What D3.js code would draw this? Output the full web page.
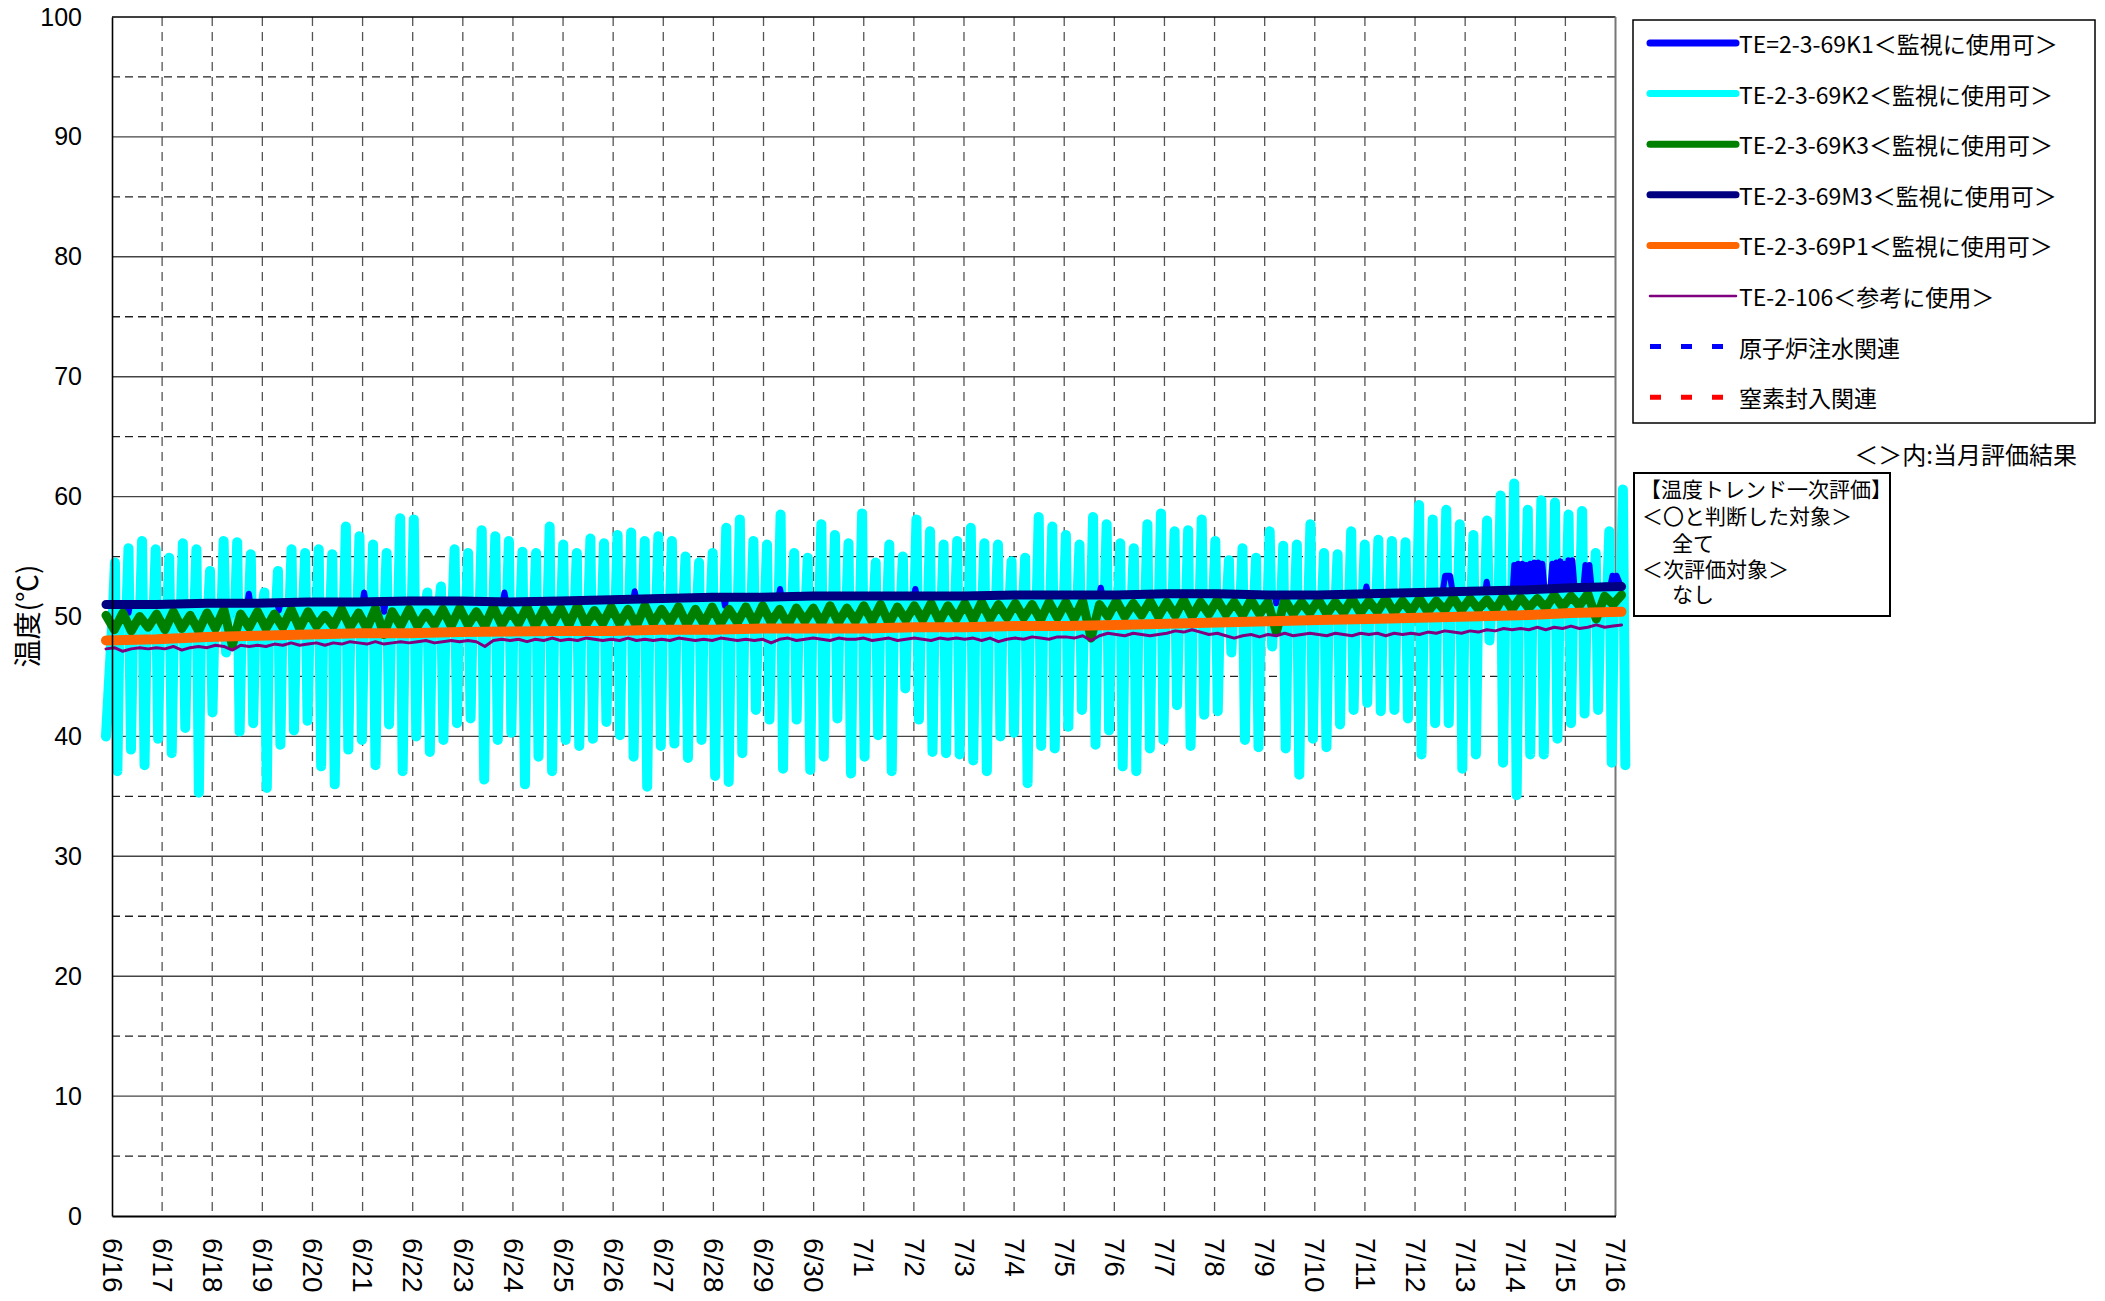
<!DOCTYPE html>
<html>
<head>
<meta charset="utf-8">
<script src="https://cdn.jsdelivr.net/npm/d3@7"></script>
<style>
  body { margin: 0; background: #fff; }
  svg { display: block; }
</style>
</head>
<body>
<svg id="chart" width="2105" height="1301"></svg>
<script>
// date labels, one per day (day 0 = 6/16)
const dateLabels = ["6/16","6/17","6/18","6/19","6/20","6/21","6/22","6/23","6/24","6/25",
  "6/26","6/27","6/28","6/29","6/30","7/1","7/2","7/3","7/4","7/5","7/6","7/7","7/8",
  "7/9","7/10","7/11","7/12","7/13","7/14","7/15","7/16"];
const yTicks = [0,10,20,30,40,50,60,70,80,90,100];
const yMinor = [5,15,25,35,45,55,65,75,85,95];

// the record runs a little past both ends of the axis (days)
const recStart = -0.12, recEnd = 30.12;

// TE-2-3-69K2: first value = opening reading, then (high, low) swing pairs, one pair per cycle
const k2Start = -0.05, k2End = 30.31;
const k2Vals = [
  40.0,54.5,37.1,55.7,38.9,56.3,37.6,55.6,39.8,54.9,38.6,56.1,40.7,55.6,35.3,53.8,42.0,56.3,47.0,56.2,
  40.4,55.2,41.1,52.0,35.7,53.8,39.3,55.6,40.5,55.3,41.3,55.6,37.5,55.2,36.0,57.5,38.9,56.7,39.7,56.0,
  37.6,55.3,41.0,58.2,37.1,58.1,40.0,52.0,38.7,52.5,39.7,55.6,41.1,55.3,41.5,
  57.2,36.4,56.7,39.7,56.3,40.3,55.4,36.0,55.3,38.3,57.5,37.1,56.0,39.7,55.3,39.2,56.5,39.8,56.1,41.2,
  56.8,40.1,57.0,38.3,56.3,35.8,56.7,39.2,56.3,39.4,55.0,38.2,54.5,39.7,55.3,36.7,57.4,36.2,58.1,38.6,
  56.3,42.2,56.0,41.4,58.5,37.3,55.3,41.4,54.9,37.2,57.7,38.3,56.8,41.5,56.1,36.9,
  58.6,38.3,54.5,40.1,56.0,37.1,55.0,44.0,58.1,41.4,57.1,38.7,56.0,38.6,56.3,38.5,57.4,38.0,56.1,37.1,
  56.0,40.0,54.6,40.3,54.9,36.1,58.3,39.2,57.5,39.0,56.8,40.8,56.0,42.2,58.3,39.3,57.7,40.5,56.1,37.5,
  55.7,37.1,57.7,39.0,58.6,39.7,57.1,42.6,57.2,39.2,58.1,41.8,56.3,42.1,54.7,
  47.0,55.7,39.7,54.9,39.1,57.1,47.5,55.9,39.0,56.0,36.8,57.7,39.8,55.3,39.1,55.2,41.0,57.1,42.2,56.0,
  42.8,56.4,42.1,56.3,42.2,56.2,41.5,59.3,38.5,58.1,41.1,58.9,41.1,57.7,37.3,56.8,38.5,58.0,48.0,60.1,
  37.8,61.1,35.1,58.9,38.5,59.7,38.5,59.5,39.8,58.5,41.1,58.8,41.9,55.3,42.2,57.1,37.8,60.6,37.6
];
// K2 level between swings, daily
const k2Base = [50.4,50.4,50.5,50.5,50.6,50.6,50.7,50.7,50.7,50.8,50.8,50.9,51.0,51.0,51.1,51.1,
  51.1,51.1,51.2,51.2,51.2,51.3,51.3,51.2,51.2,51.3,51.4,51.5,51.6,51.8,51.9];

// TE-2-3-69K3: six readings per day
const k3Vals = [
  50.1,48.9,50.3,48.8,50.0,49.1,  50.2,48.9,50.4,49.0,50.1,48.8,  50.3,49.0,50.6,47.6,50.2,49.1,
  50.4,49.0,50.2,49.1,50.6,49.0,  50.4,49.2,50.1,49.2,50.6,49.1,  50.3,49.0,50.7,48.5,50.4,49.2,
  50.6,49.2,50.3,49.3,50.6,49.2,  50.7,49.3,50.4,49.2,50.8,49.3,  50.5,49.4,50.8,49.2,50.6,49.4,
  50.7,49.3,50.9,49.3,50.5,49.4,  50.8,49.4,50.6,49.2,50.9,49.4,  50.6,49.5,50.8,49.3,50.6,49.4,
  50.8,49.4,50.6,49.5,50.8,49.4,  50.9,49.5,50.6,49.3,50.7,49.6,  50.7,49.4,50.9,49.5,50.7,49.6,
  50.9,49.6,51.0,49.4,50.8,49.7,  50.9,49.7,51.1,49.6,50.9,49.8,  51.1,49.7,51.2,49.8,51.0,49.9,
  51.1,49.9,51.0,49.7,51.2,49.9,  51.2,49.8,51.3,48.2,51.0,50.0,  51.3,50.0,51.1,50.1,51.3,50.0,
  51.2,50.1,51.4,50.0,51.2,50.2,  51.4,50.2,51.2,50.1,51.4,50.2,  51.2,48.7,51.4,50.2,51.2,50.3,
  51.4,50.2,51.2,50.3,51.5,50.3,  51.3,50.4,51.5,50.3,51.3,50.4,  51.5,50.4,51.3,50.5,51.6,50.5,
  51.5,50.6,51.4,50.5,51.7,50.6,  51.6,50.7,51.5,50.7,51.8,50.8,  51.7,50.9,51.9,49.8,51.7,51.0,
  51.8
];

// TE-2-106: six readings per day
const te106Vals = [
  47.3,47.4,47.1,47.3,47.4,47.3,  47.4,47.3,47.5,47.2,47.4,47.5,  47.4,47.6,47.5,47.2,47.6,47.5,
  47.6,47.5,47.7,47.6,47.8,47.6,  47.7,47.8,47.6,47.8,47.7,47.9,  47.8,47.7,47.9,47.7,47.8,47.9,
  47.8,47.9,48.0,47.8,47.9,48.0,  47.9,48.0,47.9,47.5,48.0,48.1,  48.0,48.1,47.9,48.1,48.0,48.2,
  48.0,48.1,48.0,48.2,48.1,48.0,  48.1,48.0,48.2,48.0,48.1,48.0,  48.1,48.0,48.2,48.1,48.0,48.1,
  48.0,48.2,48.1,48.0,48.1,48.0,  48.1,47.8,48.1,48.2,48.0,48.1,  48.2,48.1,48.0,48.2,48.1,48.1,
  48.2,48.0,48.1,48.2,48.0,48.1,  48.2,48.1,48.0,48.2,48.1,48.2,  48.1,48.2,48.0,48.2,47.9,48.1,
  48.2,48.1,48.3,48.2,48.1,48.3,  48.3,48.2,48.4,48.0,48.4,48.6,  48.5,48.4,48.6,48.5,48.4,48.5,
  48.6,48.8,48.7,48.9,48.7,48.5,  48.6,48.4,48.2,48.4,48.5,48.3,  48.5,48.4,48.6,48.4,48.5,48.6,
  48.5,48.4,48.6,48.5,48.4,48.6,  48.5,48.6,48.4,48.6,48.5,48.6,  48.5,48.7,48.6,48.8,48.7,48.6,
  48.8,48.7,48.9,48.8,49.0,48.9,  49.0,48.9,49.1,48.9,49.1,49.0,  49.2,49.0,49.1,49.3,49.1,49.2,
  49.3
];

// daily readings
const m3Vals = [51.0,51.0,51.1,51.1,51.2,51.2,51.3,51.3,51.2,51.3,51.4,51.5,51.6,51.6,51.7,51.7,
  51.7,51.7,51.8,51.8,51.8,51.9,51.9,51.8,51.8,51.9,52.0,52.1,52.2,52.4,52.5];
const p1Vals = [48.0,48.1,48.3,48.4,48.5,48.6,48.6,48.7,48.75,48.8,48.8,48.9,48.9,49.0,49.0,49.0,
  49.1,49.1,49.2,49.2,49.3,49.4,49.5,49.6,49.7,49.8,49.9,50.0,50.1,50.3,50.4];

// TE=2-3-69K1: irregular readings (day, value)
const k1Days = [-0.12,0.3,0.33,0.36,2.7,2.73,2.76,3.3,3.33,3.36,5.0,5.03,5.06,5.4,5.43,5.46,7.8,7.83,7.86,
  10.4,10.43,10.46,12.2,12.23,12.26,13.3,13.33,13.36,16.0,16.03,16.06,19.7,19.73,19.76,23.2,23.23,23.26,
  25.0,25.03,25.06,26.55,26.6,26.7,26.75,27.4,27.43,27.46,27.95,
  27.98,28.02,28.06,28.10,28.14,28.18,28.22,28.26,
  28.30,28.34,28.38,28.42,28.46,28.50,28.54,28.58,28.70,
  28.74,28.78,28.82,28.86,28.90,28.94,28.98,29.02,
  29.06,29.10,29.14,29.18,29.36,29.40,29.44,29.48,29.52,29.90,29.94,29.98,30.02,30.1];
const k1Vals = [51.0,51.0,50.3,51.0,51.1,51.9,51.1,51.1,50.5,51.1,51.2,52.0,51.2,51.2,50.4,51.2,51.3,52.0,51.3,
  51.4,52.1,51.4,51.6,50.9,51.6,51.6,52.3,51.6,51.7,52.3,51.7,51.8,52.4,51.8,51.8,51.1,51.8,
  51.9,52.5,51.9,52.0,53.4,53.4,52.0,52.1,52.9,52.1,52.2,
  54.3,52.5,54.4,52.5,54.4,52.5,54.3,52.4,
  54.4,52.5,54.5,52.5,54.5,52.5,54.4,52.4,52.3,
  54.4,52.5,54.5,52.5,54.6,52.5,54.4,52.5,
  54.7,52.6,54.7,52.5,52.5,54.3,52.6,54.3,52.5,52.6,53.4,52.6,53.4,52.6];

const legendNames = ["TE=2-3-69K1＜監視に使用可＞","TE-2-3-69K2＜監視に使用可＞","TE-2-3-69K3＜監視に使用可＞",
  "TE-2-3-69M3＜監視に使用可＞","TE-2-3-69P1＜監視に使用可＞","TE-2-106＜参考に使用＞","原子炉注水関連","窒素封入関連"];
const legendColors = ["#0000ff","#00ffff","#008000","#000080","#ff6600","#800080","#0000ff","#ff0000"];
const noteLines = ["【温度トレンド一次評価】","＜〇と判断した対象＞","全て","＜次評価対象＞","なし"];

const svg = d3.select("#chart");
const plotL = 112, plotR = 1615.5, plotT = 17, plotB = 1216;
const jp = "'Noto Sans CJK JP', sans-serif";
const latin = "'Liberation Sans', Arial, sans-serif";

const x = d3.scaleLinear().domain([0, 30]).range([plotL, plotR]);
const y = d3.scaleLinear().domain([0, 100]).range([plotB, plotT]);

svg.append("rect").attr("width", 2105).attr("height", 1301).attr("fill", "#fff");

//grid
const grid = svg.append("g");
grid.selectAll(".vg").data(d3.range(1, 30)).enter().append("line")
  .attr("x1", d => x(d)).attr("x2", d => x(d)).attr("y1", plotT).attr("y2", plotB)
  .attr("stroke", "#555").attr("stroke-width", 1.3).attr("stroke-dasharray", "9,6");
grid.selectAll(".hm").data(yMinor).enter().append("line")
  .attr("x1", plotL).attr("x2", plotR).attr("y1", d => y(d)).attr("y2", d => y(d))
  .attr("stroke", "#222").attr("stroke-width", 1.3).attr("stroke-dasharray", "8,5");
grid.selectAll(".hM").data(yTicks.slice(1, 10)).enter().append("line")
  .attr("x1", plotL).attr("x2", plotR).attr("y1", d => y(d)).attr("y2", d => y(d))
  .attr("stroke", "#444").attr("stroke-width", 1.4);

// frame
svg.append("line").attr("x1", plotL).attr("x2", plotR).attr("y1", plotT).attr("y2", plotT)
  .attr("stroke", "#000").attr("stroke-width", 1.4);
svg.append("line").attr("x1", plotR).attr("x2", plotR).attr("y1", plotT).attr("y2", plotB)
  .attr("stroke", "#777").attr("stroke-width", 2);

// K2 points: level -> high -> low -> level inside each cycle
const nPairs = (k2Vals.length - 1) / 2;
const cyc = (k2End - k2Start) / nPairs;
const baseAt = t => k2Base[Math.max(0, Math.min(30, Math.round(t)))];
const k2Pts = [[recStart, k2Vals[0]]];
for (let i = 0; i < nPairs; i++) {
  const t0 = k2Start + i * cyc;
  k2Pts.push([t0 + 0.25 * cyc, baseAt(t0)]);
  k2Pts.push([t0 + 0.40 * cyc, k2Vals[1 + 2 * i]]);
  k2Pts.push([t0 + 0.58 * cyc, k2Vals[2 + 2 * i]]);
  if (i < nPairs - 1) k2Pts.push([t0 + 0.75 * cyc, baseAt(t0)]);
}
// evenly spaced readings over the record
const spread = vals => vals.map((v, i) => [recStart + i * (recEnd - recStart) / (vals.length - 1), v]);

// series
const line = d3.line().x(d => x(d[0])).y(d => y(d[1]));
const series = [
  {pts: k2Pts, color: "#00ffff", w: 10},
  {pts: k1Vals.map((v, i) => [k1Days[i], v]), color: "#0000ff", w: 6},
  {pts: spread(k3Vals), color: "#008000", w: 9},
  {pts: spread(m3Vals), color: "#000080", w: 9},
  {pts: spread(p1Vals), color: "#ff6600", w: 10},
  {pts: spread(te106Vals), color: "#800080", w: 3}
];
svg.append("g").selectAll("path").data(series).enter().append("path")
  .attr("d", d => line(d.pts))
  .attr("fill", "none")
  .attr("stroke", d => d.color)
  .attr("stroke-width", d => d.w)
  .attr("stroke-linejoin", "round")
  .attr("stroke-linecap", "round");

// axes
const yAxis = svg.append("g").attr("transform", `translate(${plotL},0)`)
  .call(d3.axisLeft(y).tickValues(yTicks).tickSize(0).tickPadding(30));
yAxis.select(".domain").attr("stroke", "#000").attr("stroke-width", 1.6);
yAxis.selectAll("text").attr("font-size", 25).attr("font-family", latin).attr("fill", "#000");

const xAxis = svg.append("g").attr("transform", `translate(0,${plotB})`)
  .call(d3.axisBottom(x).tickValues(d3.range(0, 31)).tickFormat(i => dateLabels[i]).tickSize(0));
xAxis.select(".domain").attr("stroke", "#000").attr("stroke-width", 2.2);
xAxis.selectAll("text")
  .attr("font-size", 28).attr("font-family", latin).attr("fill", "#000")
  .attr("y", 0).attr("x", 22).attr("dy", "0.35em")
  .attr("transform", "rotate(90)").style("text-anchor", "start");

svg.append("text").attr("transform", "translate(26,616) rotate(-90)")
  .attr("text-anchor", "middle").attr("dominant-baseline", "central")
  .attr("font-size", 28).attr("font-family", jp).text("温度(℃)");

// legend
const lg = svg.append("g");
lg.append("rect").attr("x", 1633).attr("y", 20).attr("width", 462).attr("height", 403)
  .attr("fill", "#fff").attr("stroke", "#000").attr("stroke-width", 1.5);
legendNames.forEach((name, i) => {
  const ly = 43 + i * 50.6;
  const dashed = i >= 6;
  lg.append("line").attr("x1", 1650).attr("x2", dashed ? 1723 : 1736).attr("y1", ly).attr("y2", ly)
    .attr("stroke", legendColors[i])
    .attr("stroke-width", i === 5 ? 2.5 : (dashed ? 5 : 7))
    .attr("stroke-linecap", dashed ? "butt" : "round")
    .attr("stroke-dasharray", dashed ? "11,20" : null);
  lg.append("text").attr("x", 1739).attr("y", ly).attr("dominant-baseline", "central")
    .attr("font-size", 23).attr("font-family", jp).text(name);
});
svg.append("text").attr("x", 2077).attr("y", 453).attr("text-anchor", "end")
  .attr("dominant-baseline", "central").attr("font-size", 24).attr("font-family", jp)
  .text("＜＞内:当月評価結果");

// note box
svg.append("rect").attr("x", 1634).attr("y", 473).attr("width", 256).attr("height", 143)
  .attr("fill", "#fff").attr("stroke", "#000").attr("stroke-width", 2);
const noteX = [1640, 1642, 1672, 1642, 1672];
const noteY = [488, 515, 542, 568, 593];
noteLines.forEach((t, i) => {
  svg.append("text").attr("x", noteX[i]).attr("y", noteY[i]).attr("dominant-baseline", "central")
    .attr("font-size", 21).attr("font-family", jp).text(t);
});
</script>
</body>
</html>
